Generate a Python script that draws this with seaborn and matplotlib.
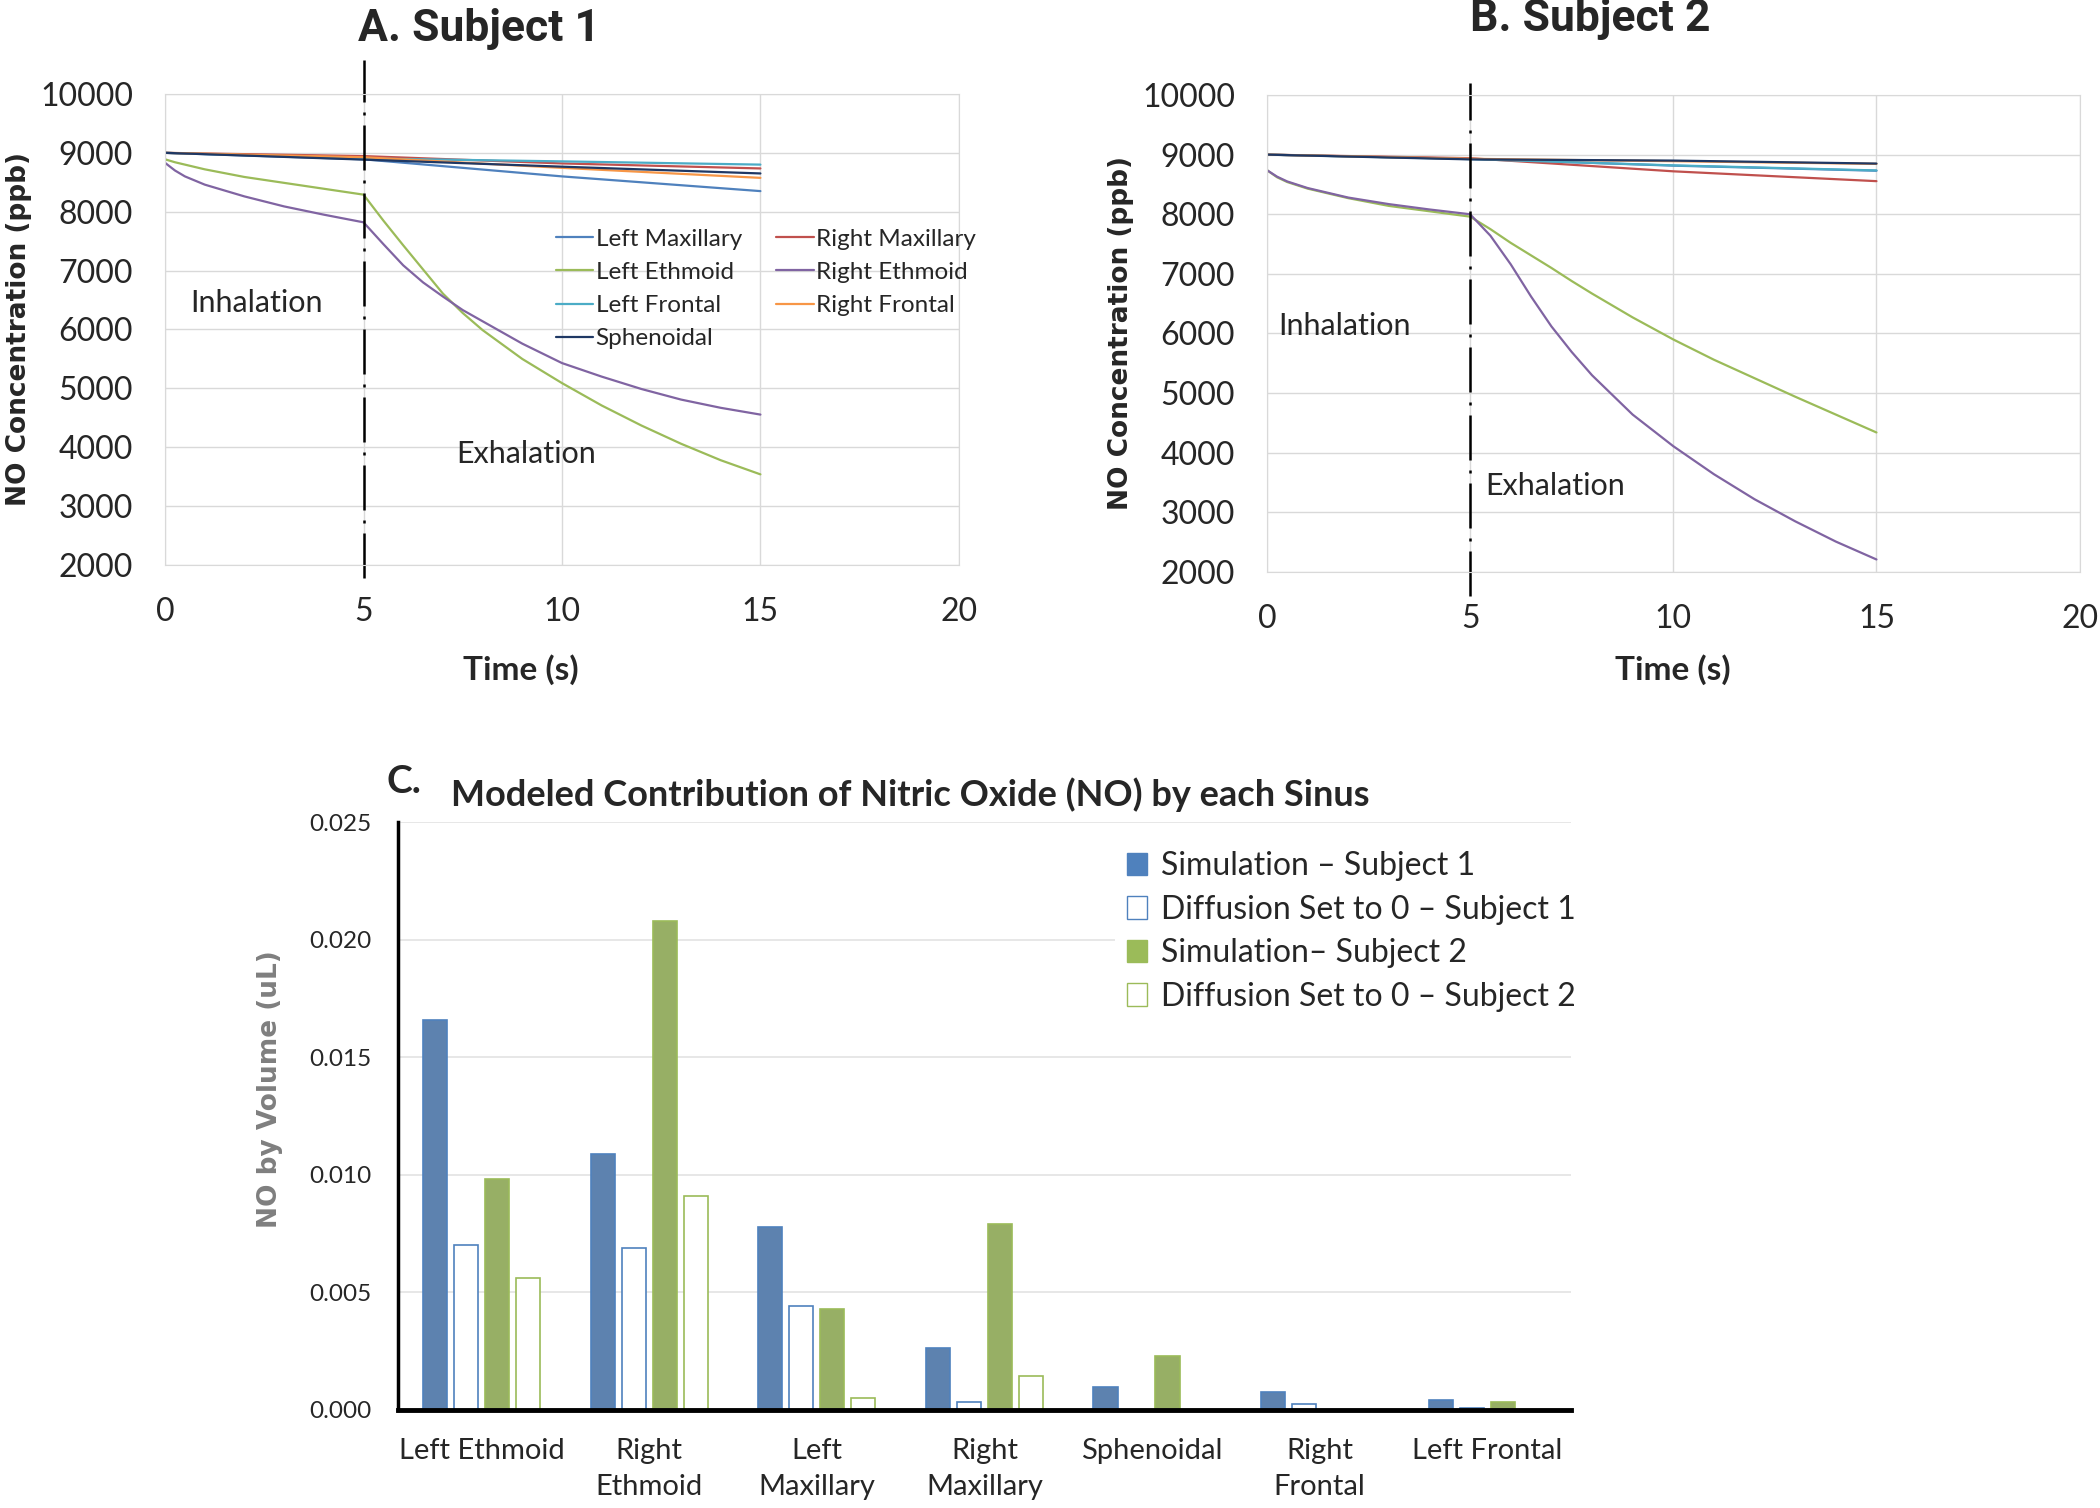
import numpy as np
import pandas as pd
import matplotlib
matplotlib.use("Agg")
import matplotlib.pyplot as plt
from matplotlib.patches import Patch
from matplotlib.ticker import FormatStrFormatter
import seaborn as sns

# ---- panel A / B data ----
sinuses = ["Left Maxillary", "Right Maxillary", "Left Ethmoid", "Right Ethmoid",
           "Left Frontal", "Right Frontal", "Sphenoidal"]
line_colors = ["#4F81BD", "#C0504D", "#9BBB59", "#8064A2", "#4BACC6", "#F79646", "#1F3864"]

# sinuses that barely change, read at 0, 5, 10, 15 s
t_slow = [0, 5, 10, 15]
s1_left_max = [9000, 8890, 8600, 8350]
s1_right_max = [9000, 8945, 8820, 8735]
s1_left_front = [9000, 8905, 8855, 8800]
s1_right_front = [9000, 8925, 8745, 8575]
s1_sphen = [9000, 8885, 8765, 8650]

s2_left_max = [9000, 8930, 8815, 8730]
s2_right_max = [9000, 8940, 8720, 8555]
s2_left_front = [9000, 8925, 8820, 8735]
s2_right_front = [9000, 8930, 8890, 8845]
s2_sphen = [9000, 8920, 8900, 8850]

# ethmoids, read at more points
t_fast = [0, 0.25, 0.5, 1, 2, 3, 4, 5, 5.5, 6, 6.5, 7, 7.5, 8, 9, 10, 11, 12, 13, 14, 15]
s1_left_eth = [8890, 8840, 8800, 8720, 8590, 8490, 8390, 8290, 7850, 7430, 7020, 6610,
               6280, 5990, 5500, 5090, 4710, 4370, 4060, 3780, 3540]
s1_right_eth = [8830, 8700, 8600, 8460, 8260, 8090, 7950, 7820, 7450, 7090, 6800, 6560,
                6330, 6140, 5760, 5430, 5200, 4990, 4810, 4670, 4555]
s2_left_eth = [8740, 8620, 8540, 8430, 8270, 8140, 8050, 7960, 7750, 7520, 7310, 7100,
               6880, 6670, 6270, 5900, 5560, 5250, 4940, 4640, 4340]
s2_right_eth = [8740, 8630, 8550, 8440, 8280, 8170, 8080, 8000, 7640, 7160, 6620, 6120,
                5690, 5300, 4640, 4110, 3640, 3220, 2850, 2510, 2210]

# ---- panel C data ----
categories = ["Left Ethmoid", "Right\nEthmoid", "Left\nMaxillary", "Right\nMaxillary",
              "Sphenoidal", "Right\nFrontal", "Left Frontal"]
series = ["Simulation \u2013 Subject 1", "Diffusion Set to 0 \u2013 Subject 1",
          "Simulation\u2013 Subject 2", "Diffusion Set to 0 \u2013 Subject 2"]
sim_s1 = [0.0166, 0.0109, 0.0078, 0.00265, 0.00096, 0.00075, 0.00041]
diff0_s1 = [0.0070, 0.0069, 0.0044, 0.00035, 0.0, 0.00024, 0.0001]
sim_s2 = [0.0098, 0.0208, 0.0043, 0.0079, 0.0023, 0.0, 0.00035]
diff0_s2 = [0.0056, 0.0091, 0.00051, 0.00143, 0.0, 0.0, 0.0]

blue = "#4F81BD"
green = "#9BBB59"

sns.set_style("white")
plt.rcParams['font.family'] = ['Lato', 'DejaVu Sans']


def long_frame(slow, fast):
    parts = []
    for name, vals in slow.items():
        parts.append(pd.DataFrame({"time": t_slow, "conc": vals, "sinus": name}))
    for name, vals in fast.items():
        parts.append(pd.DataFrame({"time": t_fast, "conc": vals, "sinus": name}))
    return pd.concat(parts, ignore_index=True)


df1 = long_frame({"Left Maxillary": s1_left_max, "Right Maxillary": s1_right_max,
                  "Left Frontal": s1_left_front, "Right Frontal": s1_right_front,
                  "Sphenoidal": s1_sphen},
                 {"Left Ethmoid": s1_left_eth, "Right Ethmoid": s1_right_eth})
df2 = long_frame({"Left Maxillary": s2_left_max, "Right Maxillary": s2_right_max,
                  "Left Frontal": s2_left_front, "Right Frontal": s2_right_front,
                  "Sphenoidal": s2_sphen},
                 {"Left Ethmoid": s2_left_eth, "Right Ethmoid": s2_right_eth})

fig = plt.figure(figsize=(21, 15.08), dpi=100)
axA = fig.add_axes([0.0786, 0.6253, 0.378, 0.3124])
axB = fig.add_axes([0.6033, 0.6207, 0.387, 0.3163])
axC = fig.add_axes([0.1895, 0.065, 0.5586, 0.3899])

dashdot = (0, (18, 4, 1.2, 4))


def line_panel(ax, df, title, title_xy, ylab_x, xlab_xy, vline_span, inh_xy, exh_xy):
    sns.lineplot(data=df, x="time", y="conc", hue="sinus", hue_order=sinuses,
                 palette=line_colors, linewidth=1.6, legend=False, errorbar=None, ax=ax)
    ax.set_xlim(0, 20)
    ax.set_ylim(2000, 10000)
    ax.set_xticks([0, 5, 10, 15, 20])
    ax.set_yticks(range(2000, 10001, 1000))
    ax.grid(True, color="#D9D9D9", linewidth=1)
    for sp in ax.spines.values():
        sp.set_color("#D9D9D9")
    ax.tick_params(length=0, labelsize=23, pad=23)
    ax.set_xlabel("Time (s)", fontsize=24, fontweight="bold")
    ax.xaxis.set_label_coords(*xlab_xy)
    ax.set_ylabel("NO Concentration (ppb)", fontsize=19, fontweight="bold",
                  family=["DejaVu Sans"])
    ax.yaxis.set_label_coords(ylab_x, 0.5)
    ax.text(title_xy[0], title_xy[1], title, transform=ax.transAxes, ha="center", va="center",
            fontsize=32, fontweight="bold", family=["Roboto", "DejaVu Sans"])
    ax.axvline(5, ymin=vline_span[0], ymax=vline_span[1], color="black", linewidth=1.8,
               linestyle=dashdot, clip_on=False)
    ax.text(inh_xy[0], inh_xy[1], "Inhalation", fontsize=22, ha="center", va="center")
    ax.text(exh_xy[0], exh_xy[1], "Exhalation", fontsize=22, ha="center", va="center")


line_panel(axA, df1, "A. Subject 1", (0.395, 1.138), -0.168, (0.448, -0.19),
           (-0.028, 1.072), (2.3, 6450), (9.1, 3880))
handlesA = {name: ln for name, ln in zip(sinuses, axA.get_lines()[:7])}
legend_order = ["Left Maxillary", "Left Ethmoid", "Left Frontal", "Sphenoidal",
                "Right Maxillary", "Right Ethmoid", "Right Frontal"]
axA.legend([handlesA[n] for n in legend_order], legend_order, ncol=2, frameon=False,
           loc="upper left", bbox_to_anchor=(0.492, 0.714), borderaxespad=0, borderpad=0,
           fontsize=17.5, handlelength=1.55, handletextpad=0.1, columnspacing=1.4,
           labelspacing=0.5)

line_panel(axB, df2, "B. Subject 2", (0.398, 1.159), -0.163, (0.5, -0.173),
           (-0.05, 1.025), (1.9, 6130), (7.1, 3440))

# ---- panel C ----
dfC = pd.DataFrame({
    "sinus": categories * 4,
    "series": np.repeat(series, len(categories)),
    "value": sim_s1 + diff0_s1 + sim_s2 + diff0_s2,
})
sns.barplot(data=dfC, x="sinus", y="value", hue="series", hue_order=series,
            palette=[blue, "white", green, "white"], width=0.74, gap=0.22,
            legend=False, ax=axC)
edge_cols = [blue, blue, green, green]
for cont, ec in zip(axC.containers, edge_cols):
    for bar in cont:
        bar.set_edgecolor(ec)
        bar.set_linewidth(1.2)

axC.set_xlim(-0.5, 6.5)
axC.set_ylim(0, 0.025)
axC.set_yticks(np.arange(0, 0.0251, 0.005))
axC.yaxis.set_major_formatter(FormatStrFormatter("%.3f"))
axC.yaxis.grid(True, color="#E3E3E3", linewidth=1.2)
axC.set_axisbelow(True)
for s in ["top", "right"]:
    axC.spines[s].set_visible(False)
axC.spines["left"].set_linewidth(2.5)
axC.spines["left"].set_color("black")
axC.spines["bottom"].set_linewidth(3.5)
axC.spines["bottom"].set_color("black")
axC.tick_params(axis="y", length=5, width=2, direction="out", labelsize=17.5, pad=14)
axC.tick_params(axis="x", length=0, labelsize=21, pad=20)
for lab in axC.get_xticklabels():
    lab.set_linespacing(1.5)
axC.set_xlabel("")
axC.set_ylabel("NO by Volume (uL)", fontsize=19, fontweight="bold", color="#7F7F7F",
               family=["DejaVu Sans"])
axC.yaxis.set_label_coords(-0.098, 0.546)
axC.text(0.4365, 1.046, "Modeled Contribution of Nitric Oxide (NO) by each Sinus",
         transform=axC.transAxes, ha="center", va="center", fontsize=26, fontweight="bold")
fig.text(0.1924, 0.482, "C.", fontsize=28, fontweight="bold", ha="center", va="center")

handlesC = [Patch(facecolor=blue, edgecolor=blue),
            Patch(facecolor="white", edgecolor=blue),
            Patch(facecolor=green, edgecolor=green),
            Patch(facecolor="white", edgecolor=green)]
legC = axC.legend(handlesC, series, loc="upper left", bbox_to_anchor=(0.611, 0.972),
                  borderaxespad=0, borderpad=0.4, frameon=True, facecolor="white",
                  edgecolor="none", framealpha=1, fontsize=23, handlelength=0.6,
                  handleheight=0.7, handletextpad=0.45, labelspacing=0.42)

fig.savefig("out.png", dpi=100, facecolor="white")
